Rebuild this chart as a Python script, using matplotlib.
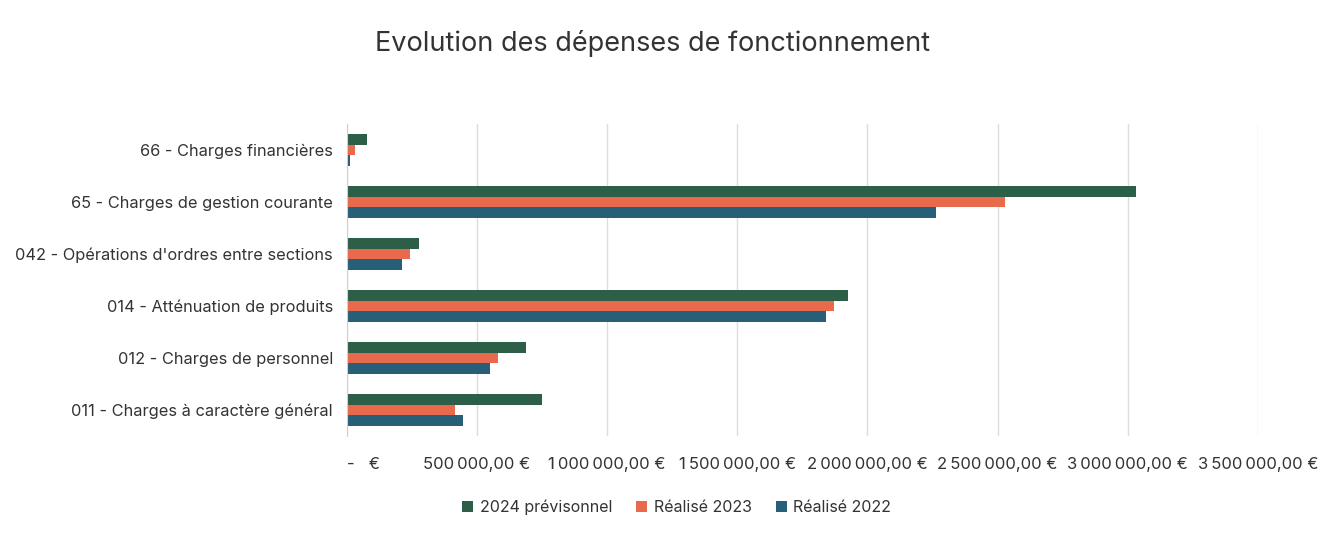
import numpy as np
import matplotlib.pyplot as plt
from matplotlib.ticker import FuncFormatter

plt.rcParams['font.family'] = ['Inter', 'DejaVu Sans']

# Donnees (de bas en haut)
categories = ["011 - Charges à caractère général",
              "012 - Charges de personnel",
              "014 - Atténuation de produits",
              "042 - Opérations d'ordres entre sections",
              "65 - Charges de gestion courante",
              "66 - Charges financières"]
prev_2024 = [750000, 688000, 1927000, 277000, 3030000, 77000]
real_2023 = [415000, 581000, 1873000, 242000, 2530000, 30000]
real_2022 = [446000, 550000, 1842000, 212000, 2265000, 12000]
ticks = [0, 500000, 1000000, 1500000, 2000000, 2500000, 3000000, 3500000]

col_2024 = '#2C5E48'
col_2023 = '#E8694B'
col_2022 = '#275E78'


def euro(v, pos):
    if v == 0:
        return "-   €"
    s = f"{v:,.2f}".replace(",", "\u202f").replace(".", ",")
    return s + " €"


fig = plt.figure(figsize=(13.39, 5.35), dpi=100)
ax = fig.add_axes([0.259, 0.185, 0.6805, 0.583])

y = np.arange(len(categories))
h = 0.205
ax.barh(y + h, prev_2024, height=h, color=col_2024, label='2024 prévisonnel')
ax.barh(y, real_2023, height=h, color=col_2023, label='Réalisé 2023')
ax.barh(y - h, real_2022, height=h, color=col_2022, label='Réalisé 2022')

ax.set_xlim(0, 3500000)
ax.set_ylim(-0.5, len(categories) - 0.5)
ax.set_xticks(ticks)
ax.xaxis.set_major_formatter(FuncFormatter(euro))
ax.set_yticks(y)
ax.set_yticklabels(categories)
ax.tick_params(axis='y', length=0, labelsize=11.8, colors='#333333', pad=10)
ax.tick_params(axis='x', length=0, labelsize=12, colors='#333333', pad=15)
ax.grid(axis='x', color='#dcdcdc', lw=1)
ax.set_axisbelow(True)
for s in ['top', 'right', 'bottom']:
    ax.spines[s].set_visible(False)
ax.spines['left'].set_color('#d0d0d0')

fig.canvas.draw()
ax.get_xticklabels()[0].set_horizontalalignment('left')

fig.text(0.487, 0.918, "Evolution des dépenses de fonctionnement",
         ha='center', va='center', fontsize=19.5, color='#333333')

ax.legend(loc='center', bbox_to_anchor=(0.362, -0.228), ncol=3, frameon=False,
          fontsize=11.5, handlelength=0.7, handleheight=0.7, columnspacing=1.5,
          handletextpad=0.4, labelcolor='#333333')

fig.savefig('out.png', dpi=100)
